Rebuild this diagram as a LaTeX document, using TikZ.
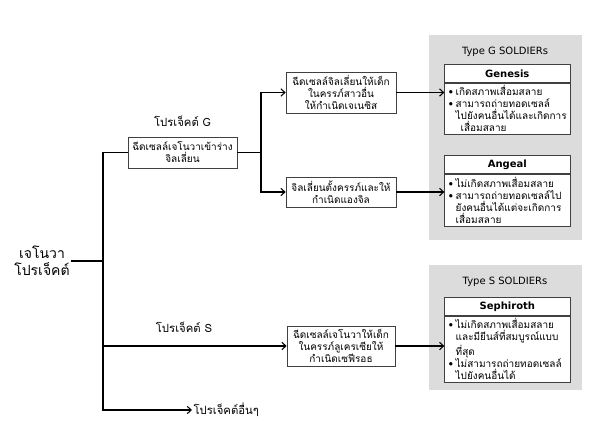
\documentclass[tikz,border=0pt]{standalone}
\usepackage{fontspec}
\usepackage{tikz}
\usetikzlibrary{arrows.meta, positioning, calc}
\setmainfont{DejaVu Sans}
\newfontfamily\thaifont[Script=Thai]{Loma}
\definecolor{panelgray}{HTML}{DCDCDC}
\definecolor{edgegray}{HTML}{404040}
\newcommand{\bul}{\makebox[0.7em][l]{\textbullet}}

\begin{document}
\begin{tikzpicture}[x=0.75pt, y=-0.75pt, >={Straight Barb[length=3pt,width=5.5pt]}]
        \tikzstyle{stepbox} = [rectangle, draw=edgegray, fill=white, line width=0.5pt, align=center, inner sep=2pt, font=\thaifont\fontsize{7.5}{9}\selectfont]
        \tikzstyle{panel} = [fill=panelgray, draw=none]
        \tikzstyle{header} = [rectangle, draw=edgegray, fill=white, line width=0.5pt, minimum width=94.5pt, minimum height=13.5pt, inner sep=1pt, font=\bfseries\fontsize{7.5}{9}\selectfont]
        \tikzstyle{traits} = [rectangle, draw=edgegray, fill=white, line width=0.5pt, text width=88pt, align=left, inner xsep=3pt, inner ysep=2pt, anchor=north, font=\thaifont\fontsize{7.5}{9}\selectfont]
        \tikzstyle{label} = [font=\thaifont\fontsize{8.5}{10}\selectfont]
        \tikzstyle{link} = [draw, line width=0.8pt]
        \useasboundingbox (0,0) rectangle (592,444);

        % grey panels
        \fill [panel] (429,35) rectangle (582,240);
        \fill [panel] (429,265) rectangle (582,390);
        \node [font=\fontsize{7.5}{9}\selectfont] (typeg) at (505,52) {Type G SOLDIERs};
        \node [font=\fontsize{7.5}{9}\selectfont] (types) at (505,282) {Type S SOLDIERs};

        % project tree
        \node [font=\thaifont\fontsize{10.5}{12.5}\selectfont, align=center, inner sep=1pt] (jenova) at (42,261) {เจโนวา\\โปรเจ็คต์};
        \node [stepbox, minimum width=81.75pt, minimum height=23pt] (injectg) at (182.5,152.5) {ฉีดเซลล์เจโนวาเข้าร่าง\\จิลเลี่ยน};
        \node [label, above=4pt of injectg] (projg) {โปรเจ็คต์ G};
        \node [stepbox, minimum width=82.5pt, minimum height=30.75pt] (genbirth) at (341,92.5) {ฉีดเซลล์จิลเลี่ยนให้เด็ก\\ในครรภ์สาวอื่น\\ให้กำเนิดเจเนซิส};
        \node [stepbox, minimum width=82.5pt, minimum height=22.5pt] (angbirth) at (341,192) {จิลเลี่ยนตั้งครรภ์และให้\\กำเนิดแองจิล};
        \node [stepbox, minimum width=81pt, minimum height=30pt] (sephbirth) at (341,346) {ฉีดเซลล์เจโนวาให้เด็ก\\ในครรภ์ลูเครเซียให้\\กำเนิดเซฟีรอธ};
        \node [label] (projs) at (184,327) {โปรเจ็คต์ S};
        \node [label, anchor=west, inner sep=1pt] (others) at (192,410) {โปรเจ็คต์อื่นๆ};

        % soldiers
        \node [header, anchor=north west] (genesis) at (444,64) {Genesis};
        \node [traits, minimum height=37.5pt] (genesisinfo) at (genesis.south) {\bul เกิดสภาพเสื่อมสลาย\\\bul สามารถถ่ายทอดเซลล์\\\hspace*{0.7em}ไปยังคนอื่นได้และเกิดการ\\\hspace*{1.2em}เสื่อมสลาย};
        \node [header, anchor=north west] (angeal) at (444,155) {Angeal};
        \node [traits, minimum height=39pt] (angealinfo) at (angeal.south) {\bul ไม่เกิดสภาพเสื่อมสลาย\\\bul สามารถถ่ายทอดเซลล์ไป\\\hspace*{0.7em}ยังคนอื่นได้แต่จะเกิดการ\\\hspace*{0.7em}เสื่อมสลาย};
        \node [header, anchor=north west] (sephiroth) at (444,297) {Sephiroth};
        \node [traits, minimum height=46pt] (sephinfo) at (sephiroth.south) {\bul ไม่เกิดสภาพเสื่อมสลาย\\\hspace*{0.7em}และมียีนส์ที่สมบูรณ์แบบ\\\hspace*{0.7em}ที่สุด\\\bul ไม่สามารถถ่ายทอดเซลล์\\\hspace*{0.7em}ไปยังคนอื่นได้};

        \coordinate (fork) at (103,261);
        \coordinate (forkg) at (261,152.5);

        \path [link] (jenova.east) -- (fork);
        \path [link] (injectg.west) -| (fork);
        \path [link, ->] (fork) |- (sephbirth.west);
        \path [link, ->] (fork) |- (others.west);
        \path [link] (injectg.east) -- (forkg);
        \path [link, ->] (forkg) |- (genbirth.west);
        \path [link, ->] (forkg) |- (angbirth.west);
        \path [link, ->] (genbirth.east) -- (genbirth.east -| genesisinfo.west);
        \path [link, ->] (angbirth.east) -- (angbirth.east -| angealinfo.west);
        \path [link, ->] (sephbirth.east) -- (sephbirth.east -| sephinfo.west);
    \end{tikzpicture}
\end{document}
